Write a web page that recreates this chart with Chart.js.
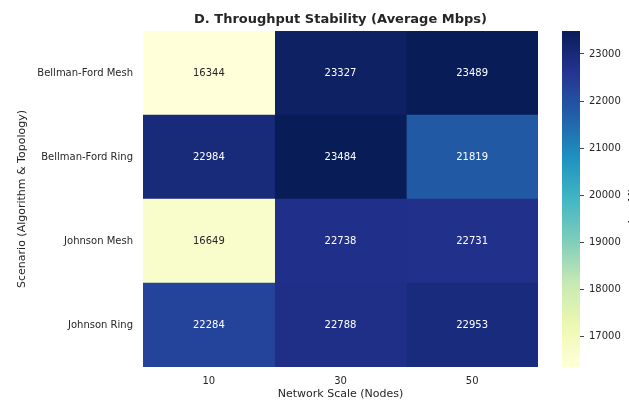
<!DOCTYPE html>
<html>
<head>
<meta charset="utf-8">
<script src="https://cdn.jsdelivr.net/npm/chart.js@4.4.1/dist/chart.umd.min.js"></script>
<style>
  html, body { margin: 0; padding: 0; background: #ffffff; }
  #wrap { position: relative; width: 629px; height: 401px; overflow: hidden; background: #ffffff; }
  #heat { position: absolute; left: 0; top: 0; }
  #cbar { position: absolute; left: 540px; top: 0; }
</style>
</head>
<body>
<div id="wrap">
  <canvas id="heat" width="540" height="401"></canvas>
  <canvas id="cbar" width="89" height="401"></canvas>
</div>
<script>
// Scenario rows and node-count columns
const scenarios = ['Bellman-Ford Mesh', 'Bellman-Ford Ring', 'Johnson Mesh', 'Johnson Ring'];
const nodeCounts = ['10', '30', '50'];

// Average throughput (Mbps) per scenario, one array per node count
const nodes10 = [16344, 22984, 16649, 22284];
const nodes30 = [23327, 23484, 22738, 22788];
const nodes50 = [23489, 21819, 22731, 22953];

// Colour bar tick labels
const colorbarTicks = [17000, 18000, 19000, 20000, 21000, 22000, 23000];

const columns = [nodes10, nodes30, nodes50];
const allValues = columns.flat();
const vmin = Math.min(...allValues);
const vmax = Math.max(...allValues);

const FONT = "'DejaVu Sans', 'Liberation Sans', sans-serif";
const TEXT = '#262626';

// YlGnBu colour ramp
const ylgnbu = ['#ffffd9', '#edf8b1', '#c7e9b4', '#7fcdbb', '#41b6c4', '#1d91c0', '#225ea8', '#253494', '#081d58'];
const hexToRgb = h => [1, 3, 5].map(i => parseInt(h.substr(i, 2), 16));
const rampRgb = ylgnbu.map(hexToRgb);

function rampColor(t) {
  t = Math.max(0, Math.min(1, t));
  const pos = t * (rampRgb.length - 1);
  const i = Math.min(rampRgb.length - 2, Math.floor(pos));
  const f = pos - i;
  return rampRgb[i].map((c, k) => Math.round(c + (rampRgb[i + 1][k] - c) * f));
}
function cellRgb(v) { return rampColor((v - vmin) / (vmax - vmin)); }
function cellColor(v) { const c = cellRgb(v); return `rgb(${c[0]},${c[1]},${c[2]})`; }
function luminance(rgb) {
  const lin = rgb.map(c => { c /= 255; return c <= 0.03928 ? c / 12.92 : Math.pow((c + 0.055) / 1.055, 2.4); });
  return 0.2126 * lin[0] + 0.7152 * lin[1] + 0.0722 * lin[2];
}
function annotColor(v) { return luminance(cellRgb(v)) > 0.408 ? TEXT : '#ffffff'; }

// Title above the plot area and the value written in each cell
const heatText = {
  id: 'heatText',
  afterDatasetsDraw(chart) {
    const ctx = chart.ctx;
    ctx.save();
    ctx.textAlign = 'center';
    ctx.textBaseline = 'middle';
    ctx.font = `10px ${FONT}`;
    chart.data.datasets.forEach((ds, j) => {
      chart.getDatasetMeta(j).data.forEach((bar, i) => {
        const v = columns[j][i];
        const p = bar.getCenterPoint();
        ctx.fillStyle = annotColor(v);
        ctx.fillText(String(v), p.x, p.y);
      });
    });
    const a = chart.chartArea;
    ctx.fillStyle = TEXT;
    ctx.font = `bold 13px ${FONT}`;
    ctx.fillText('D. Throughput Stability (Average Mbps)', (a.left + a.right) / 2, 19.5);
    ctx.restore();
  }
};

new Chart(document.getElementById('heat'), {
  type: 'bar',
  data: {
    labels: scenarios,
    datasets: columns.map((vals, j) => ({
      label: nodeCounts[j],
      data: scenarios.map(() => [j, j + 1]),
      backgroundColor: vals.map(cellColor),
      borderWidth: 0,
      grouped: false,
      barPercentage: 1,
      categoryPercentage: 1
    }))
  },
  options: {
    indexAxis: 'y',
    responsive: false,
    animation: false,
    devicePixelRatio: 1,
    layout: { padding: { top: 31, right: 2, bottom: 0, left: 0 } },
    plugins: { legend: { display: false }, tooltip: { enabled: false } },
    scales: {
      x: {
        type: 'linear',
        min: 0,
        max: nodeCounts.length,
        grid: { display: false, drawTicks: false, tickLength: 0 },
        border: { display: false },
        afterBuildTicks: ax => { ax.ticks = nodeCounts.map((_, i) => ({ value: i + 0.5 })); },
        afterFit: ax => { ax.height = 34; },
        ticks: {
          padding: 8,
          color: TEXT,
          font: { family: FONT, size: 10 },
          maxRotation: 0,
          callback: v => nodeCounts[Math.floor(v)]
        },
        title: {
          display: true,
          text: 'Network Scale (Nodes)',
          color: TEXT,
          font: { family: FONT, size: 11 },
          padding: { top: 0, bottom: 0 }
        }
      },
      y: {
        type: 'category',
        grid: { display: false, drawTicks: false, tickLength: 0 },
        border: { display: false },
        afterFit: ax => { ax.width = 143; },
        ticks: { padding: 10, color: TEXT, font: { family: FONT, size: 10 } },
        title: {
          display: true,
          text: 'Scenario (Algorithm & Topology)',
          color: TEXT,
          font: { family: FONT, size: 11 },
          padding: { top: 16, bottom: 0 }
        }
      }
    }
  },
  plugins: [heatText]
});

// Colour bar label, running up the right edge
const cbarLabel = {
  id: 'cbarLabel',
  afterDraw(chart) {
    const a = chart.chartArea;
    const ctx = chart.ctx;
    ctx.save();
    ctx.translate(93, (a.top + a.bottom) / 2);
    ctx.rotate(-Math.PI / 2);
    ctx.textAlign = 'center';
    ctx.textBaseline = 'middle';
    ctx.fillStyle = TEXT;
    ctx.font = `11px ${FONT}`;
    ctx.fillText('Avg Mbps', 0, 0);
    ctx.restore();
  }
};

new Chart(document.getElementById('cbar'), {
  type: 'bar',
  data: {
    labels: [''],
    datasets: [{
      data: [[vmin, vmax]],
      borderWidth: 0,
      barPercentage: 1,
      categoryPercentage: 1,
      backgroundColor: ctx => {
        const chart = ctx.chart;
        if (!chart.chartArea) return '#ffffff';
        const ys = chart.scales.y;
        const y0 = ys.getPixelForValue(vmin);
        const y1 = ys.getPixelForValue(vmax);
        const g = chart.ctx.createLinearGradient(0, y0, 0, y1);
        ylgnbu.forEach((c, i) => g.addColorStop(i / (ylgnbu.length - 1), c));
        return g;
      }
    }]
  },
  options: {
    responsive: false,
    animation: false,
    devicePixelRatio: 1,
    layout: { padding: { top: 31, right: 0, bottom: 34, left: 22 } },
    plugins: { legend: { display: false }, tooltip: { enabled: false } },
    scales: {
      x: { display: false },
      y: {
        position: 'right',
        min: vmin,
        max: vmax,
        afterBuildTicks: ax => { ax.ticks = colorbarTicks.map(v => ({ value: v })); },
        afterFit: ax => { ax.width = 49; },
        grid: { display: true, drawOnChartArea: false, drawTicks: true, tickLength: 4, color: '#444444' },
        border: { display: false },
        ticks: { padding: 5, color: TEXT, font: { family: FONT, size: 10 }, callback: v => String(v) }
      }
    }
  },
  plugins: [cbarLabel]
});
</script>
</body>
</html>
